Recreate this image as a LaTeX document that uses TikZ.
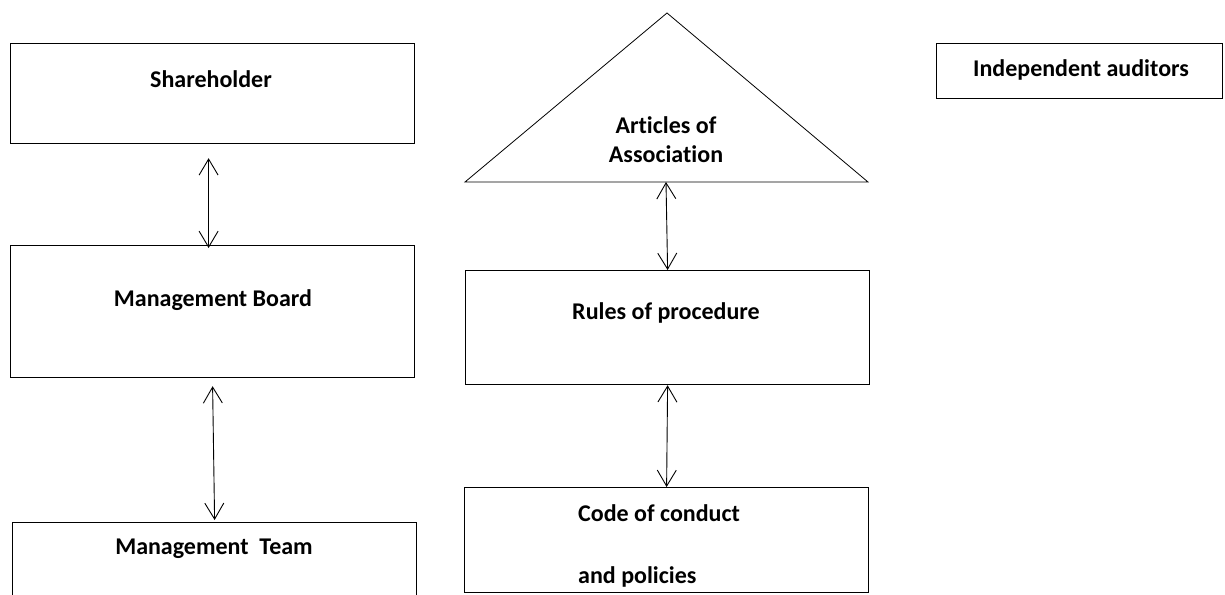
\documentclass[tikz,border=0pt]{standalone}
\usepackage{fontspec}
\setmainfont[Ligatures=NoCommon]{Carlito}
\usetikzlibrary{arrows.meta,positioning}

\begin{document}
\begin{tikzpicture}[x=1pt,y=-1pt]
  \tikzset{box/.style={draw, line width=1.2pt, minimum width=404pt, inner sep=0pt, anchor=north west},
    txt/.style={font=\fontsize{24}{29}\selectfont\bfseries, inner sep=0pt},
    link/.style={{Straight Barb[length=16pt,width=19pt]}-{Straight Barb[length=16pt,width=19pt]}, line width=0.9pt}
  }
  \path[use as bounding box, clip] (0,0) rectangle (1225,594);

  % left column
  \node[box, minimum height=100pt] (share) at (10,43) {};
  \node[txt] (shareT) at (211,79) {Shareholder};
  \node[box, minimum height=132pt] (board) at (10,245) {};
  \node[txt] (boardT) at (213,300) {Management Board};
  \node[box, minimum height=100pt] (team) at (12,522) {};
  \node[txt] (teamT) at (214,549) {Management\ \ Team};

  % middle column
  \coordinate (apex) at (667,13);
  \coordinate (triL) at (465,182);
  \coordinate (triR) at (868,182);
  \coordinate (triB) at (666,182);
  \draw[line width=0.8pt] (triL) -- (apex) -- (triR) -- cycle;
  \node[txt, align=center] (artT) at (666,140) {Articles of\\Association};
  \node[box, minimum height=114pt] (rules) at (465,270) {};
  \node[txt] (rulesT) at (666,313) {Rules of procedure};
  \node[box, minimum height=105pt] (code) at (464,487) {};
  \node[txt, align=left, anchor=north west] (codeT) at (578,504) {Code of conduct\\[33pt]and policies};

  % right
  \node[box, minimum width=286pt, minimum height=55pt] (audit) at (936,43) {};
  \node[txt] (auditT) at (1081,70) {Independent auditors};

  % arrows
  \draw[link] ([xshift=-4pt,yshift=-14pt]share.south) -- ([xshift=-4pt,yshift=-3pt]board.north);
  \draw[link] ([yshift=-8pt]board.south) -- ([yshift=2pt]team.north);
  \draw[link] (triB) -- (rules.north);
  \draw[link] (rules.south) -- (code.north);
\end{tikzpicture}
\end{document}
